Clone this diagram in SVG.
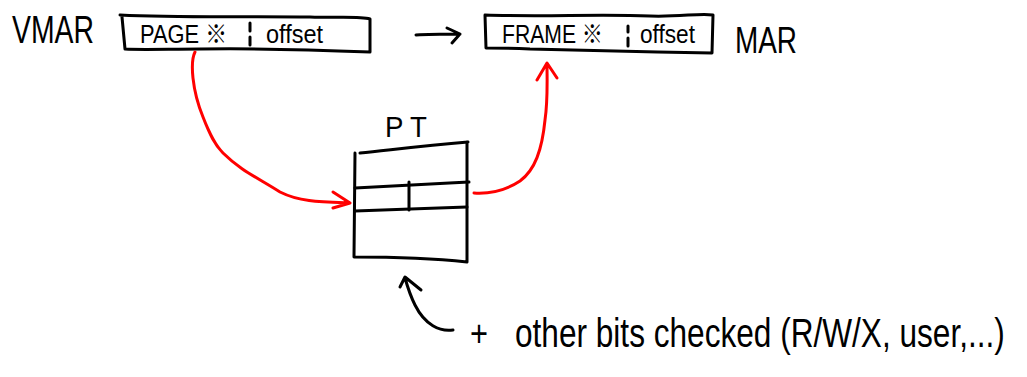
<svg xmlns="http://www.w3.org/2000/svg" width="1027" height="377" viewBox="0 0 1027 377">
  <defs>
    <style>
      .ink { fill: none; stroke: #000; stroke-width: 3; stroke-linecap: round; stroke-linejoin: round; }
      .red { fill: none; stroke: #ff0000; stroke-width: 3; stroke-linecap: round; stroke-linejoin: round; }
      .hand { font-family: "Liberation Sans", "Noto Sans CJK JP", sans-serif; fill: #000; }
    </style>
  </defs>
  <rect width="1027" height="377" fill="#fff"/>

  <!-- virtual address -->
  <g id="vmar">
    <text class="hand" x="12" y="43" font-size="38" textLength="82" lengthAdjust="spacingAndGlyphs">VMAR</text>
    <path class="ink" d="M120,15 C180,18 250,16 310,17 C340,18 360,16 370,19 L370,52 C320,50 260,48 200,49 C170,49 140,50 125,49 L122,17"/>
    <text class="hand" x="140" y="43" font-size="25" textLength="87" lengthAdjust="spacingAndGlyphs">PAGE ※</text>
    <path class="ink" d="M250,23 L250,31 M250,37 L250,45"/>
    <text class="hand" x="266" y="43" font-size="25" textLength="57" lengthAdjust="spacingAndGlyphs">offset</text>
  </g>

  <!-- physical address -->
  <g id="mar">
    <path class="ink" d="M485,15 C540,17 600,14 650,16 C680,17 700,13 713,15 L712,53 C650,52 580,50 530,49 C510,48 495,48 486,48 L485,15"/>
    <text class="hand" x="502" y="43" font-size="25" textLength="101" lengthAdjust="spacingAndGlyphs">FRAME ※</text>
    <path class="ink" d="M628,26 L628,32 M628,38 L628,46"/>
    <text class="hand" x="640" y="43" font-size="25" textLength="55" lengthAdjust="spacingAndGlyphs">offset</text>
    <text class="hand" x="735" y="53" font-size="36" textLength="62" lengthAdjust="spacingAndGlyphs">MAR</text>
  </g>

  <!-- page table -->
  <g id="pt">
    <text class="hand" x="385" y="137" font-size="30" textLength="42" lengthAdjust="spacingAndGlyphs">P T</text>
    <path class="ink" d="M360,153 C390,150 420,146 468,142 M355,153 L354,257 C390,257 430,258 467,262 L467,142"/>
    <path class="ink" d="M355,188 C390,186 430,184 469,182"/>
    <path class="ink" d="M355,211 C390,210 430,208 467,207"/>
    <path class="ink" d="M409,182 L409,210"/>
  </g>

  <!-- connectors -->
  <g id="connectors">
    <path class="ink" d="M416,35 C430,34 445,34 460,34 M447,28 L460,34 L452,43"/>
    <path class="red" d="M195,52 C190,62 192,90 203,117 C210,135 215,145 223,153 C240,170 258,178 280,192 C300,202 320,202 350,203 M333,192 L350,203 L333,208"/>
    <path class="red" d="M474,193 C490,194 505,191 520,181 C535,170 542,150 545,120 C548,100 547,80 547,64 M537,80 L547,63 L557,78"/>
    <path class="ink" d="M453,330 C440,332 425,325 415,305 C410,295 407,285 405,278 M400,287 L405,277 L421,290"/>
  </g>

  <!-- annotation, drawn narrow like handwriting -->
  <g id="note">
    <text class="hand" x="470" y="346" font-size="36" textLength="18" lengthAdjust="spacingAndGlyphs">+</text>
    <text class="hand" transform="translate(515,347) scale(0.79,1)" x="0" y="0" font-size="40">other bits checked (R/W/X, user,...)</text>
  </g>
</svg>
